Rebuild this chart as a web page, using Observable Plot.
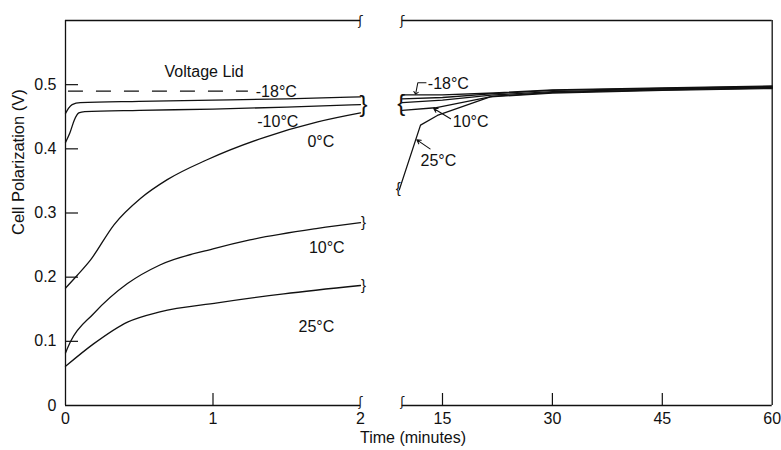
<!DOCTYPE html>
<html>
<head>
<meta charset="utf-8">
<script src="https://cdn.jsdelivr.net/npm/d3@7"></script>
<script src="https://cdn.jsdelivr.net/npm/@observablehq/plot@0.6"></script>
<style>
  html, body { margin: 0; padding: 0; background: #fff; }
  #chart { position: relative; width: 781px; height: 450px; overflow: hidden; font-family: "Liberation Sans", Arial, sans-serif; }
  #chart svg { position: absolute; top: 0; }
  #xlabel { position: absolute; left: 360px; top: 429px; font-size: 16px; color: #111; white-space: nowrap; }
</style>
</head>
<body>
<div id="chart"><div id="xlabel">Time (minutes)</div></div>
<script>
// ---- data ----
const seriesNames = ["-18°C", "-10°C", "0°C", "10°C", "25°C"];
const yTicks = [0, 0.1, 0.2, 0.3, 0.4, 0.5];
const leftXTicks = [0, 1, 2];
const rightXTicks = [15, 30, 45, 60];
const lidVoltage = 0.49;

// left panel (0–2 min): [time, volts]
const left_m18 = [[0,0.455],[0.02,0.463],[0.045,0.469],[0.1,0.472],[0.5,0.474],[1,0.476],[1.5,0.478],[2,0.481]];
const left_m10 = [[0,0.41],[0.03,0.425],[0.06,0.445],[0.09,0.456],[0.13,0.458],[0.5,0.46],[1,0.462],[1.5,0.465],[2,0.469]];
const left_0   = [[0,0.183],[0.08,0.203],[0.17,0.227],[0.33,0.282],[0.51,0.323],[0.69,0.352],[0.96,0.383],[1.35,0.418],[1.71,0.442],[2,0.456]];
const left_10  = [[0,0.082],[0.035,0.1],[0.19,0.143],[0.42,0.19],[0.64,0.219],[1.0,0.244],[1.25,0.258],[1.71,0.276],[2,0.285]];
const left_25  = [[0,0.061],[0.19,0.096],[0.42,0.13],[0.64,0.146],[1.03,0.16],[1.48,0.174],[2,0.187]];

// right panel (~10–60 min): [time, volts]
const right_m18 = [[9.5,0.484],[15,0.484],[22,0.487],[30,0.492],[45,0.495],[60,0.498]];
const right_m10 = [[9.5,0.478],[15,0.480],[22,0.486],[30,0.491],[45,0.494],[60,0.497]];
const right_0   = [[9.5,0.472],[15,0.476],[22,0.484],[30,0.489],[45,0.493],[60,0.496]];
const right_10  = [[9.5,0.460],[14,0.464],[22,0.482],[30,0.488],[45,0.492],[60,0.495]];
const right_25  = [[9.1,0.336],[12,0.437],[14.3,0.452],[21.5,0.481],[30,0.487],[45,0.491],[60,0.494]];

const leftArrays = [left_m18, left_m10, left_0, left_10, left_25];
const rightArrays = [right_m18, right_m10, right_0, right_10, right_25];

const toRows = (arrays) => arrays.flatMap((arr, i) => arr.map(([t, v]) => ({series: seriesNames[i], t, v})));
const leftRows = toRows(leftArrays);
const rightRows = toRows(rightArrays);
const lastPoint = (arr) => ({t: arr[arr.length-1][0], v: arr[arr.length-1][1]});
const upperEnds = [left_m18, left_m10, left_0].map(lastPoint);
const lowerEnds = [left_10, left_25].map(lastPoint);
const upperBreakV = d3.mean(upperEnds, d => d.v);

// annotation positions (data units)
const lidLabel = [{text: "Voltage Lid", t: 0.94, v: 0.52}];
const leftLabels = [
  {text: "-18°C", t: 1.29, v: 0.489},
  {text: "-10°C", t: 1.30, v: 0.442},
  {text: "0°C", t: 1.64, v: 0.411},
  {text: "10°C", t: 1.65, v: 0.245},
  {text: "25°C", t: 1.58, v: 0.122}
];
const rightLabels = [
  {text: "-18°C", t: 13.0, v: 0.501},
  {text: "10°C", t: 16.4, v: 0.442},
  {text: "25°C", t: 12.0, v: 0.381}
];
const leader18 = [{t: 12.75, v: 0.503}, {t: 11.63, v: 0.503}, {t: 11.36, v: 0.487}];
const arrow10 = {t1: 16.1, v1: 0.447, t2: 13.8, v2: 0.463};
const arrow25 = {t1: 13.3, v1: 0.400, t2: 11.5, v2: 0.414};

const font = "Liberation Sans, Arial, sans-serif";
const breakFont = "Liberation Sans, DejaVu Sans, sans-serif";
const fmt = d => String(d);
const common = {
  height: 450, marginTop: 20, marginBottom: 45,
  style: {fontFamily: font, fontSize: "16px", color: "#111", background: "transparent", overflow: "visible"}
};

const left = Plot.plot({
  ...common,
  width: 375, marginLeft: 65, marginRight: 15,
  x: {domain: [0, 2]},
  y: {domain: [0, 0.6]},
  marks: [
    Plot.ruleX([0], {stroke: "#111", strokeWidth: 1.3}),
    Plot.ruleY([0], {x1: 0, x2: 2, stroke: "#111", strokeWidth: 1.3}),
    Plot.ruleY([0.6], {x1: 0, x2: 2, stroke: "#111", strokeWidth: 1.3}),
    Plot.tickY(yTicks.filter(d => d > 0), {y: d => d, insetRight: 282, stroke: "#111", strokeWidth: 1.2}),
    Plot.tickX([1], {x: d => d, insetTop: 373, stroke: "#111", strokeWidth: 1.2}),
    Plot.axisY({ticks: yTicks, tickSize: 0, tickPadding: 9, tickFormat: fmt, label: null, fontSize: 16}),
    Plot.axisX({ticks: leftXTicks, tickSize: 0, tickPadding: 7, tickFormat: fmt, label: null, fontSize: 16}),
    Plot.ruleY([lidVoltage], {x1: 0.02, x2: 1.24, stroke: "#111", strokeWidth: 1.2, strokeDasharray: "15,13"}),
    Plot.line(leftRows, {x: "t", y: "v", z: "series", curve: "monotone-x", stroke: "#111", strokeWidth: 1.3}),
    Plot.text([upperBreakV], {x: 2, y: d => d, text: () => "}", dx: 3, fontSize: 24, fill: "#111", fontFamily: breakFont}),
    Plot.text(lowerEnds, {x: "t", y: "v", text: () => "}", dx: 3, fontSize: 15, fill: "#111", fontFamily: breakFont}),
    Plot.text([0.6], {x: 2, y: d => d, text: () => "ʃ", fontSize: 13, fill: "#111", fontFamily: "DejaVu Sans"}),
    Plot.text([0], {x: 2, y: d => d, text: () => "ʃ", dy: -3, fontSize: 12, fill: "#111", fontFamily: "DejaVu Sans"}),
    Plot.text(lidLabel, {x: "t", y: "v", text: "text", textAnchor: "middle", fontSize: 16, fill: "#111"}),
    Plot.text(leftLabels, {x: "t", y: "v", text: "text", textAnchor: "start", fontSize: 16, fill: "#111"}),
    Plot.text(["Cell Polarization (V)"], {frameAnchor: "left", dx: -47, dy: 22, rotate: -90, fontSize: 16.5, fill: "#111", letterSpacing: "0.6px"})
  ]
});
left.style.left = "0px";

const right = Plot.plot({
  ...common,
  width: 406, marginLeft: 26.7, marginRight: 9.3,
  x: {domain: [9.5, 60]},
  y: {domain: [0, 0.6], axis: null},
  marks: [
    Plot.ruleX([60], {stroke: "#111", strokeWidth: 1.3}),
    Plot.ruleY([0], {x1: 9.5, x2: 60, stroke: "#111", strokeWidth: 1.3}),
    Plot.ruleY([0.6], {x1: 9.5, x2: 60, stroke: "#111", strokeWidth: 1.3}),
    Plot.tickX(rightXTicks.filter(d => d < 60), {x: d => d, insetTop: 373, stroke: "#111", strokeWidth: 1.2}),
    Plot.axisX({ticks: rightXTicks, tickSize: 0, tickPadding: 7, tickFormat: fmt, label: null, fontSize: 16}),
    Plot.line(rightRows, {x: "t", y: "v", z: "series", curve: "linear", stroke: "#111", strokeWidth: 1.3}),
    Plot.text([0.471], {x: 9.5, y: d => d, text: () => "{", dx: -1, fontSize: 24, fill: "#111", fontFamily: breakFont}),
    Plot.text([right_25[0]], {x: d => d[0], y: d => d[1], text: () => "{", dx: -1, dy: -2, fontSize: 15, fill: "#111", fontFamily: breakFont}),
    Plot.text([0.6], {x: 9.5, y: d => d, text: () => "ʃ", fontSize: 13, fill: "#111", fontFamily: "DejaVu Sans"}),
    Plot.text([0], {x: 9.5, y: d => d, text: () => "ʃ", dy: -3, fontSize: 12, fill: "#111", fontFamily: "DejaVu Sans"}),
    Plot.line(leader18, {x: "t", y: "v", stroke: "#111", strokeWidth: 1.1, markerEnd: "arrow"}),
    Plot.arrow([arrow10, arrow25], {x1: "t1", y1: "v1", x2: "t2", y2: "v2", stroke: "#111", strokeWidth: 1.1, headLength: 6}),
    Plot.text(rightLabels, {x: "t", y: "v", text: "text", textAnchor: "start", fontSize: 16, fill: "#111"})
  ]
});
right.style.left = "375px";

const chart = document.getElementById("chart");
chart.insertBefore(left, chart.firstChild);
chart.insertBefore(right, chart.firstChild);
</script>
</body>
</html>
